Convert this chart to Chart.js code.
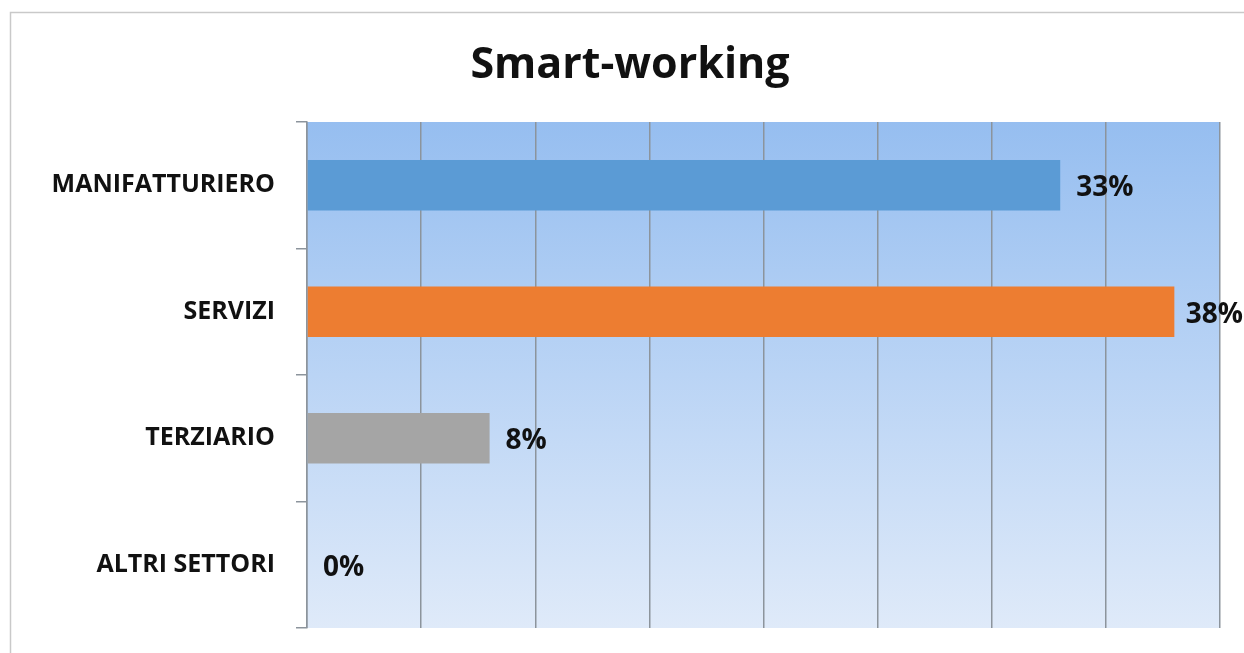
<!DOCTYPE html>
<html>
<head>
<meta charset="utf-8">
<script src="https://cdn.jsdelivr.net/npm/chart.js@4"></script>
<style>
html,body{margin:0;padding:0;background:#fff;}
#wrap{width:1244px;height:653px;position:relative;}
</style>
</head>
<body>
<div id="wrap"><canvas id="c" width="1244" height="653"></canvas></div>
<script>
const categories = ["MANIFATTURIERO", "SERVIZI", "TERZIARIO", "ALTRI SETTORI"];
const values = [33, 38, 8, 0];
const barColors = ["#5B9BD5", "#ED7D31", "#A5A5A5", "#FFC000"];
const titleText = "Smart-working";
const axisMax = 40;
const axisStep = 5;

const FONT = "'Open Sans', Lato, sans-serif";
const gridColor = "#8C949C";

const framePlugin = {
  id: "frame",
  beforeDraw(chart) {
    const ctx = chart.ctx;
    ctx.save();
    ctx.fillStyle = "#fff";
    ctx.fillRect(0, 0, chart.width, chart.height);
    ctx.strokeStyle = "#C9C9C9";
    ctx.lineWidth = 1.5;
    ctx.beginPath();
    ctx.moveTo(10.5, chart.height);
    ctx.lineTo(10.5, 12.5);
    ctx.lineTo(chart.width, 12.5);
    ctx.stroke();
    // title
    ctx.fillStyle = "#111";
    ctx.font = "bold 43px " + FONT;
    ctx.textAlign = "center";
    ctx.textBaseline = "alphabetic";
    ctx.fillText(titleText, 630, 78);
    ctx.restore();
  }
};

const bgPlugin = {
  id: "plotbg",
  beforeDraw(chart) {
    const {ctx, chartArea: a} = chart;
    const g = ctx.createLinearGradient(0, a.top, 0, a.bottom);
    g.addColorStop(0, "#96BEF0");
    g.addColorStop(0.5, "#BAD4F5");
    g.addColorStop(1, "#DFEAF9");
    ctx.save();
    ctx.fillStyle = g;
    ctx.fillRect(a.left, a.top, a.right - a.left, a.bottom - a.top);
    ctx.restore();
  }
};

const labelPlugin = {
  id: "vlabels",
  afterDatasetsDraw(chart) {
    const ctx = chart.ctx;
    const meta = chart.getDatasetMeta(0);
    ctx.save();
    ctx.font = "bold 28px " + FONT;
    ctx.fillStyle = "#111";
    ctx.textBaseline = "middle";
    ctx.textAlign = "left";
    meta.data.forEach((bar, i) => {
      const txt = values[i] + "%";
      const w = ctx.measureText(txt).width;
      let x = bar.x + 16;
      if (x + w > chart.width - 1) x = chart.width - 1 - w;
      ctx.fillText(txt, x, bar.y + 3);
    });
    ctx.restore();
  }
};

new Chart(document.getElementById("c"), {
  type: "bar",
  data: {
    labels: categories,
    datasets: [{
      data: values,
      backgroundColor: barColors,
      borderWidth: 0,
      categoryPercentage: 1.0,
      barPercentage: 0.4
    }]
  },
  options: {
    indexAxis: "y",
    responsive: false,
    animation: false,
    devicePixelRatio: 1,
    layout: { padding: { left: 0, top: 122, right: 24, bottom: 25 } },
    plugins: { legend: { display: false }, title: { display: false }, tooltip: { enabled: false } },
    scales: {
      x: {
        min: 0, max: axisMax,
        ticks: { display: false, stepSize: axisStep },
        grid: { color: gridColor, lineWidth: 1.5, drawTicks: false },
        border: { display: false },
        afterFit(s) { s.height = 0; }
      },
      y: {
        offset: true,
        ticks: { color: "#111", font: { family: FONT, weight: "bold", size: 25 }, padding: 21 },
        grid: { offset: true, drawOnChartArea: false, drawTicks: true, tickLength: 11, color: gridColor, lineWidth: 1.5 },
        border: { display: true, color: gridColor, width: 1.5 },
        afterFit(s) { s.width = 307; s.paddingTop = 0; s.paddingBottom = 0; }
      }
    }
  },
  plugins: [framePlugin, bgPlugin, labelPlugin]
});
</script>
</body>
</html>
